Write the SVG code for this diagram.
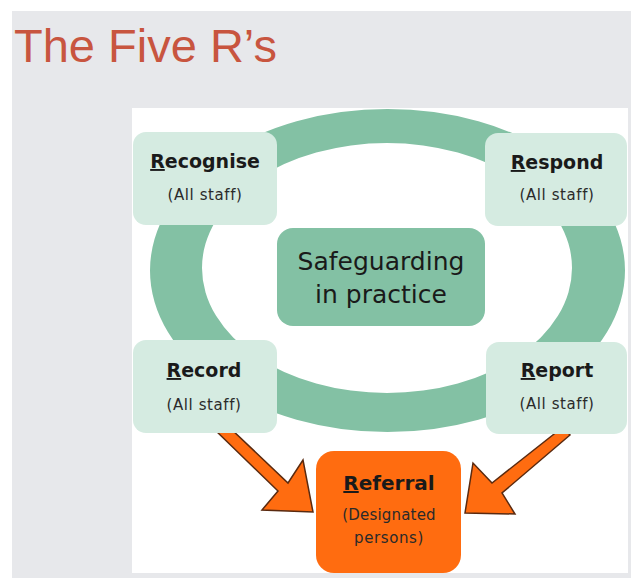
<svg xmlns="http://www.w3.org/2000/svg" width="631" height="578" viewBox="0 0 631 578">
<defs>
<style>
.box{fill:#d5ebe1}
.hd{font-family:"Comic Sans MS","DejaVu Sans",sans-serif;font-weight:bold;font-size:19px;fill:#1a1a1a;text-anchor:middle}
.sub{font-family:"Comic Sans MS","DejaVu Sans",sans-serif;font-size:15px;fill:#2a2a2a;text-anchor:middle;letter-spacing:0.6px}
.u{text-decoration:underline}
.arrow{fill:#ff6c10;stroke:#5a2a10;stroke-width:1.5;stroke-linejoin:miter}
</style>
</defs>
<rect x="0" y="0" width="631" height="578" fill="#ffffff"/>
<rect x="12" y="11" width="619" height="567" fill="#e7e8eb"/>
<text x="14" y="62" font-family="Liberation Sans, Arial, sans-serif" font-size="47" fill="#c8553f">The Five R’s</text>
<rect x="132" y="108" width="496" height="465" fill="#ffffff"/>
<path d="M150,270.5 a237.5,161.5 0 1,0 475,0 a237.5,161.5 0 1,0 -475,0 Z M202,268 a185,125 0 1,0 370,0 a185,125 0 1,0 -370,0 Z" fill="#83c1a4" fill-rule="evenodd"/>
<g id="connectors">
<polygon class="arrow" points="213,428 230,428 288,483 303,460 313,512 262,510 278,491"/>
<polygon class="arrow" points="563,427 570,435 502,493 515,514 465,513 473,463 492,483"/>
</g>
<g id="safeguarding">
<rect x="277" y="228" width="208" height="98" rx="16" fill="#83c1a4"/>
<text x="381" y="270" font-family="'Comic Sans MS','DejaVu Sans',sans-serif" font-size="25" fill="#1a1a1a" text-anchor="middle">Safeguarding</text>
<text x="381" y="303" font-family="'Comic Sans MS','DejaVu Sans',sans-serif" font-size="25" fill="#1a1a1a" text-anchor="middle">in practice</text>
</g>
<g id="recognise">
<rect class="box" x="133" y="132" width="144" height="93" rx="13"/>
<text class="hd" x="205" y="168"><tspan class="u">R</tspan>ecognise</text>
<text class="sub" x="205" y="200">(All staff)</text>
</g>
<g id="respond">
<rect class="box" x="485" y="133" width="142" height="93" rx="13"/>
<text class="hd" x="557" y="169"><tspan class="u">R</tspan>espond</text>
<text class="sub" x="557" y="200">(All staff)</text>
</g>
<g id="record">
<rect class="box" x="133" y="340" width="144" height="93" rx="13"/>
<text class="hd" x="204" y="377"><tspan class="u">R</tspan>ecord</text>
<text class="sub" x="204" y="410">(All staff)</text>
</g>
<g id="report">
<rect class="box" x="486" y="342" width="141" height="92" rx="13"/>
<text class="hd" x="557" y="377"><tspan class="u">R</tspan>eport</text>
<text class="sub" x="557" y="409">(All staff)</text>
</g>
<g id="referral">
<rect x="316" y="451" width="145" height="122" rx="18" fill="#ff6c10"/>
<text class="hd" x="389" y="490" font-size="20" style="font-size:20px"><tspan class="u">R</tspan>eferral</text>
<text class="sub" x="389" y="520" style="letter-spacing:0.2px">(Designated</text>
<text class="sub" x="389" y="543">persons)</text>
</g>
</svg>
